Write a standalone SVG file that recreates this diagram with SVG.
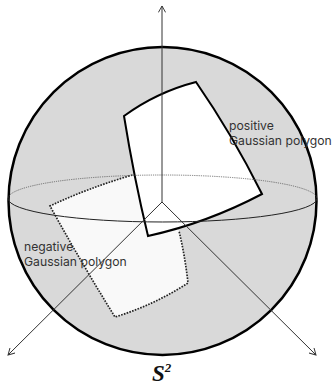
<svg xmlns="http://www.w3.org/2000/svg" width="332" height="385" viewBox="0 0 332 385">
<defs>
<marker id="arrow" viewBox="0 0 10 10" refX="9" refY="5" markerWidth="8" markerHeight="8" markerUnits="userSpaceOnUse" orient="auto"><path d="M1 0.5L9 5L1 9.5" fill="none" stroke="#333" stroke-width="1.2"/></marker>
</defs>
<style>
.label{font-family:Inter,"Noto Sans","Liberation Sans",sans-serif;font-size:12.2px;fill:#333}
.axis{fill:none;stroke:#333;stroke-width:1;marker-end:url(#arrow)}
</style>
<rect width="332" height="385" fill="#fff"/>
<g id="sphere"><circle cx="162.5" cy="201" r="154" fill="#d9d9d9" stroke="#000" stroke-width="2.5"/></g>
<g id="negative-polygon"><path d="M132.500 175Q88 188 50 206Q82 264 115 317Q154 305 188 283Q185 256 179 231" fill="#f9f9f9" stroke="#222" stroke-width="1.7" stroke-dasharray="1.6 1.3"/><path d="M132.500 175L179 231L148 236Z" fill="#f9f9f9"/></g>
<g id="positive-polygon"><path d="M196 82Q157 92 124 116Q134 178 148 236Q207 223 262 194Q232 134 196 82Z" fill="#fff" stroke="#000" stroke-width="2"/></g>
<g id="equator"><path d="M8 198.500A154.500 23.500 0 0 1 317 198.500" fill="none" stroke="#555" stroke-width="0.8" stroke-dasharray="1.2 1"/><path d="M8 198.500A154.500 23.500 0 0 0 317 198.500" fill="none" stroke="#222" stroke-width="1"/></g>
<g id="connectors">
<path class="axis" d="M162 202V6"/>
<path class="axis" d="M162 202L8 355"/>
<path class="axis" d="M162 202L316 355"/>
</g>
<g id="label-positive"><text class="label"><tspan x="229" y="130">positive</tspan><tspan x="229" y="145">Gaussian polygon</tspan></text></g>
<g id="label-negative"><text class="label"><tspan x="24" y="251">negative</tspan><tspan x="24" y="266">Gaussian polygon</tspan></text></g>
<g id="label-s2"><text x="152" y="381" font-family="Liberation Serif,serif" font-size="23" font-weight="bold" font-style="italic" fill="#111">S<tspan dy="-9" font-size="13">2</tspan></text></g>
</svg>
